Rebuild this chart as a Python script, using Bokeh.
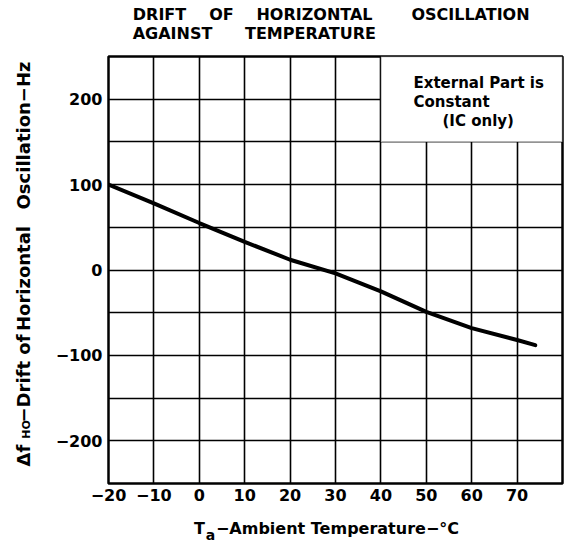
from bokeh.plotting import figure
from bokeh.models import Range1d, FixedTicker, Label, BoxAnnotation, LinearAxis
from bokeh.embed import file_html
from bokeh.resources import INLINE

# ---------------- data ----------------
temp_c = [-20, -10, 0, 10, 20, 30, 40, 50, 60, 70, 74]
drift_hz = [100, 78, 55, 33, 12, -4, -25, -49, -68, -82, -88]

x_ticks = [-20, -10, 0, 10, 20, 30, 40, 50, 60, 70]
x_tick_labels = ["−20", "−10", "0", "10", "20", "30", "40", "50", "60", "70"]
y_ticks = [-200, -100, 0, 100, 200]
y_tick_labels = ["−200", "−100", "0", "100", "200"]
x_grid = [-10, 0, 10, 20, 30, 40, 50, 60, 70]
y_grid = [-200, -150, -100, -50, 0, 50, 100, 150, 200]

title_line1 = ["DRIFT", "OF", "HORIZONTAL", "OSCILLATION"]
title_line2 = ["AGAINST", "TEMPERATURE"]
x_label_parts = ["T", "−Ambient Temperature−°C"]
x_label_sub = ["a"]
y_label_parts = ["Δf", "−Drift of", "Horizontal", "Oscillation−Hz"]
y_label_sub = ["HO"]
note_lines = ["External Part is", "Constant", "(IC only)"]

X0, X1 = -20, 80
Y0, Y1 = -250, 250

# ---------------- layout (canvas pixels) ----------------
W, H = 566, 547
BL, BT = 108, 56
FW, FH = 454, 427
BR = W - BL - FW
BB = H - BT - FH
FONT = "DejaVu Sans"


def dx(px):
    return round(X0 + (px - BL) / FW * (X1 - X0), 3)


def dy(py):
    return round(Y1 - (py - BT) / FH * (Y1 - Y0), 3)


p = figure(width=W, height=H, output_backend="svg", toolbar_location=None,
           title=None, x_range=Range1d(X0, X1), y_range=Range1d(Y0, Y1),
           min_border_left=BL, min_border_right=BR, min_border_top=BT,
           min_border_bottom=BB)
p.background_fill_color = "white"
p.border_fill_color = "white"
p.outline_line_color = "black"
p.outline_line_width = 2.5

# grid
p.xgrid.ticker = FixedTicker(ticks=x_grid)
p.ygrid.ticker = FixedTicker(ticks=y_grid)
for g in (p.xgrid, p.ygrid):
    g.grid_line_color = "black"
    g.grid_line_width = 1.6
    g.grid_line_alpha = 1.0


def style_axis(ax, size, standoff, style="bold"):
    ax.axis_line_color = None
    ax.major_tick_line_color = None
    ax.minor_tick_line_color = None
    ax.major_tick_out = 0
    ax.major_tick_in = 0
    ax.minor_tick_out = 0
    ax.minor_tick_in = 0
    ax.major_label_text_font = FONT
    ax.major_label_text_font_style = style
    ax.major_label_text_font_size = size
    ax.major_label_text_color = "black"
    ax.major_label_standoff = standoff


# main axes
xa = p.xaxis[0]
ya = p.yaxis[0]
xa.ticker = FixedTicker(ticks=x_ticks)
xa.major_label_overrides = dict(zip(x_ticks, x_tick_labels))
ya.ticker = FixedTicker(ticks=y_ticks)
ya.major_label_overrides = dict(zip(y_ticks, y_tick_labels))
style_axis(xa, "16px", 5)
style_axis(ya, "16px", 6)


def text_axis(side, positions, texts, size, standoff, orientation="horizontal",
              style="bold"):
    ax = LinearAxis(ticker=FixedTicker(ticks=positions, minor_ticks=[]),
                    major_label_overrides=dict(zip(positions, texts)),
                    major_label_orientation=orientation)
    style_axis(ax, size, standoff, style)
    p.add_layout(ax, side)
    return ax


# title lines (above, nearest first)
text_axis("above", [dx(v) for v in (172, 310)], title_line2, "16px", 14)
text_axis("above", [dx(v) for v in (159, 221, 314, 470)], title_line1, "16px", -3)

# x axis label with subscript
text_axis("below", [dx(199), dx(337)], x_label_parts, "16px", 15)
text_axis("below", [dx(210)], x_label_sub, "14px", -14)

# y axis label with subscript (reads bottom to top)
text_axis("left", [dy(429)], y_label_sub, "11px", 19, orientation="vertical")
text_axis("left", [dy(v) for v in (455, 378, 278, 135)], y_label_parts, "18px",
          -17, orientation="vertical")

# note box (white region without grid)
p.add_layout(BoxAnnotation(left=40, right=80, bottom=150, top=250,
                           fill_color="white", fill_alpha=1.0,
                           line_color="black", line_width=1.6))

# curve
p.line(temp_c, drift_hz, line_color="black", line_width=4, line_cap="round")

# note text inside the frame
for txt, (px, py) in zip(note_lines, [(413, 82), (413, 102), (442, 121)]):
    p.add_layout(Label(x=dx(px), y=dy(py), text=txt, text_font=FONT,
                       text_font_style="bold", text_font_size="15px",
                       text_color="black", text_align="left",
                       text_baseline="alphabetic"))

open("out.html", "w").write(file_html(p, INLINE))
